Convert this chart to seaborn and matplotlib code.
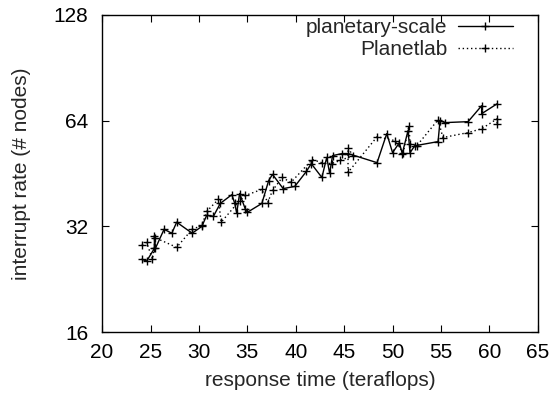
import pandas as pd
import matplotlib.pyplot as plt
import matplotlib.ticker as mticker
import seaborn as sns

# planetary-scale (solid)
planetary_x = [24.1, 24.6, 25.4, 25.4, 25.5, 26.4, 27.2, 27.7, 29.3, 30.3,
               30.8, 31.5, 32.2, 33.4, 33.7, 33.9, 34.2, 34.8, 35.0, 36.5,
               37.2, 37.6, 38.7, 39.9, 41.1, 41.6, 42.7, 43.2, 43.5, 43.8,
               44.8, 45.4, 48.4, 49.4, 50.0, 50.7, 51.0, 51.6, 51.8, 52.3,
               54.7, 54.9, 55.4, 57.8, 59.2, 59.2, 60.8]
planetary_y = [25.8, 25.5, 27.7, 30.1, 27.7, 31.4, 30.6, 32.9, 30.6, 32.0,
               34.4, 34.2, 37.2, 39.4, 37.2, 34.9, 39.7, 35.8, 35.1, 37.2,
               43.2, 45.0, 41.0, 41.6, 45.9, 48.3, 44.1, 50.3, 45.3, 50.9,
               51.6, 51.6, 48.6, 58.8, 51.9, 55.4, 51.6, 60.0, 51.9, 54.3,
               55.8, 64.0, 63.2, 63.6, 70.6, 67.0, 71.5]

# Planetlab (dotted)
planetlab_x = [24.1, 24.6, 25.2, 25.5, 27.7, 29.3, 30.3, 30.8, 32.0, 32.3,
               34.2, 34.8, 36.5, 37.1, 37.6, 38.6, 39.5, 41.7, 42.7, 43.7,
               44.6, 45.9, 45.4, 45.4, 48.4, 50.2, 51.1, 51.7, 51.8, 52.5,
               54.7, 55.2, 57.8, 59.2, 60.8, 60.8]
planetlab_y = [28.4, 28.8, 25.8, 29.7, 27.9, 31.4, 32.2, 35.3, 38.2, 32.9,
               37.9, 39.2, 40.8, 37.4, 40.5, 44.1, 42.7, 49.6, 48.6, 48.3,
               49.3, 50.9, 53.6, 45.6, 57.6, 56.2, 51.9, 61.9, 55.1, 54.3,
               64.4, 57.3, 59.2, 60.7, 64.8, 62.8]

x_ticks = [20, 25, 30, 35, 40, 45, 50, 55, 60, 65]
y_ticks = [16, 32, 64, 128]

planetary = pd.DataFrame({"x": planetary_x, "y": planetary_y})
planetlab = pd.DataFrame({"x": planetlab_x, "y": planetlab_y})

sns.set_style("ticks")
plt.rcParams["font.family"] = ["Liberation Sans", "DejaVu Sans"]

fig = plt.figure(figsize=(5.55, 3.94), dpi=100)
ax = fig.add_axes([0.184, 0.157, 0.785, 0.805])

line_kw = dict(color="black", sort=False, estimator=None, linewidth=1.0,
               marker="+", markersize=6, markeredgewidth=1.0,
               markeredgecolor="black", ax=ax)
sns.lineplot(data=planetary, x="x", y="y", linestyle="-",
             label="planetary-scale", **line_kw)
sns.lineplot(data=planetlab, x="x", y="y", linestyle=(0, (1, 2)),
             label="Planetlab", **line_kw)

ax.set_yscale("log", base=2)
ax.set_xlim(20, 65)
ax.set_ylim(16, 128)
ax.xaxis.set_major_locator(mticker.FixedLocator(x_ticks))
ax.yaxis.set_major_locator(mticker.FixedLocator(y_ticks))
ax.yaxis.set_major_formatter(mticker.FuncFormatter(lambda v, p: "%d" % v))
ax.yaxis.set_minor_locator(mticker.NullLocator())
ax.tick_params(which="major", direction="in", length=5, width=0.8,
               top=True, right=True, labelsize=15, colors="black")
ax.tick_params(axis="y", pad=10)
ax.tick_params(axis="x", pad=8)

for s in ax.spines.values():
    s.set_visible(True)
    s.set_color("black")
    s.set_linewidth(1.0)

ax.set_xlabel("response time (teraflops)", fontsize=15, labelpad=6)
ax.set_ylabel("interrupt rate (# nodes)", fontsize=15, labelpad=16)

handles, labels = ax.get_legend_handles_labels()
ax.legend(handles, labels, loc="upper right", bbox_to_anchor=(0.943, 0.99),
          frameon=False, markerfirst=False, fontsize=15,
          handlelength=2.65, handletextpad=0.5, borderpad=0,
          borderaxespad=0, labelspacing=0.15)

fig.savefig("out.png", dpi=100)
